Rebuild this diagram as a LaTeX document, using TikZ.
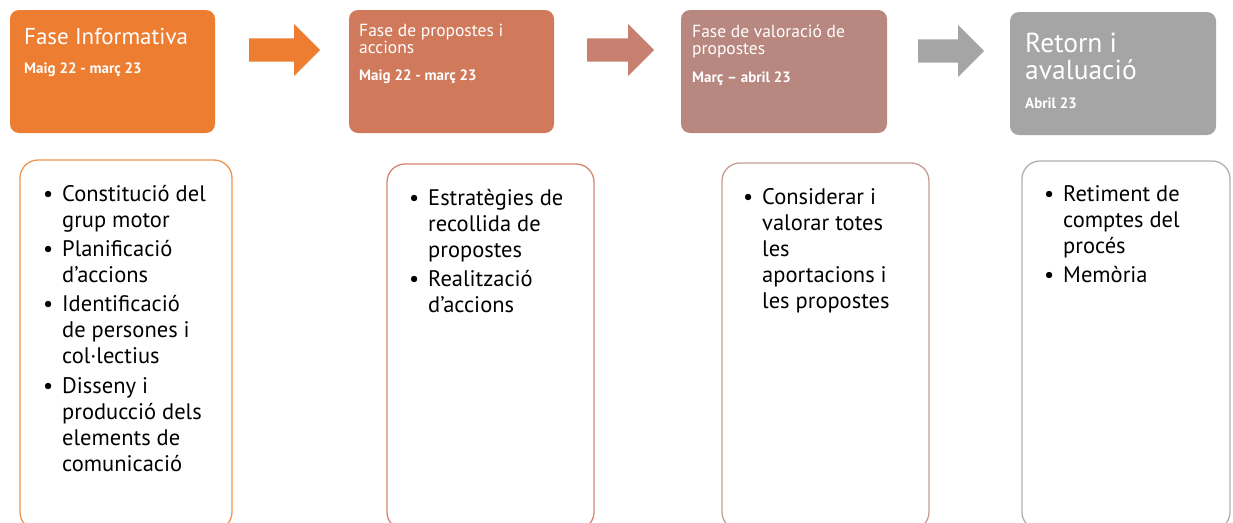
\documentclass[tikz,border=0pt]{standalone}
\usepackage{fontspec}
\setmainfont{PT Sans}
\usetikzlibrary{shapes.arrows}
\definecolor{hA}{HTML}{ED7D31}
\definecolor{hB}{HTML}{D17A5B}
\definecolor{hC}{HTML}{B8877F}
\definecolor{hD}{HTML}{A5A5A5}
\definecolor{arB}{HTML}{C7806F}
\definecolor{oA}{HTML}{F0944F}
\definecolor{oB}{HTML}{D9846A}
\definecolor{oC}{HTML}{C79C96}
\definecolor{oD}{HTML}{B0B0B0}
\newcommand{\bul}{\makebox[19pt][l]{\textbullet}}
\tikzset{
  headbox/.style={rounded corners=9pt, minimum width=205pt, minimum height=123pt, inner sep=0pt, draw=none},
  listbox/.style={rounded corners=18pt, fill=white, line width=1.3pt, minimum height=370pt, inner sep=0pt},
  blockarrow/.style={single arrow, single arrow head extend=14.5pt, minimum width=52pt, minimum height=71pt, inner xsep=0pt, inner ysep=11.5pt, shape border rotate=0, draw=none, anchor=tail},
  ttl/.style={text=white, inner sep=0pt, anchor=base west, align=left},
  dates/.style={text=white, inner sep=0pt, anchor=base west, font=\bfseries\fontsize{15}{17}\selectfont},
  items/.style={inner sep=0pt, anchor=base west, font=\fontsize{22.5}{26}\selectfont}
}
\begin{document}
\begin{tikzpicture}[x=1pt,y=-1pt]
\useasboundingbox (0,0) rectangle (1233,522);
\clip (0,0) rectangle (1233,522);
% header boxes
\node[headbox, fill=hA] (h1) at (112.5,71.5) {};
\node[headbox, fill=hB] (h2) at (451.5,71.5) {};
\node[headbox, fill=hC, minimum width=206pt] (h3) at (784,71.5) {};
\node[headbox, fill=hD, minimum width=206pt] (h4) at (1113,73.5) {};
% arrows
\node[blockarrow, fill=hA] (a1) at (249,50) {};
\node[blockarrow, fill=arB, minimum height=67pt] (a2) at (587,50) {};
\node[blockarrow, fill=hD, minimum height=66pt] (a3) at (918,51) {};
% header texts
\node[ttl, font=\fontsize{23}{24}\selectfont] (t1) at (24,44) {Fase Informativa};
\node[dates] (d1) at (24,73) {Maig 22 - març 23};
\node[ttl, font=\fontsize{17.5}{17}\selectfont] (t2) at (359,53) {Fase de propostes i\\accions};
\node[dates] (d2) at (359,80) {Maig 22 - març 23};
\node[ttl, font=\fontsize{17.5}{17}\selectfont] (t3) at (692,54) {Fase de valoració de\\propostes};
\node[dates] (d3) at (692,82) {Març – abril 23};
\node[ttl, font=\fontsize{27.5}{27}\selectfont] (t4) at (1025,79) {Retorn i\\avaluació};
\node[dates] (d4) at (1025,108) {Abril 23};
% list boxes
\node[listbox, draw=oA, minimum width=212pt] (b1) at (126,345) {};
\node[listbox, draw=oB, minimum width=207pt, minimum height=366pt] (b2) at (490.5,347) {};
\node[listbox, draw=oC, minimum width=207pt, minimum height=367pt] (b3) at (825.5,346.5) {};
\node[listbox, draw=oD, minimum width=208pt, minimum height=369pt] (b4) at (1126,345.5) {};
% list texts
\node[items] (l1) at (43,201) {\begin{tabular}[t]{@{}l@{}l@{}}
\bul & Constitució del\\ & grup motor\\[3pt]
\bul & Planificació\\ & d’accions\\[3pt]
\bul & Identificació\\ & de persones i\\ & col·lectius\\[4pt]
\bul & Disseny i\\ & producció dels\\ & elements de\\ & comunicació
\end{tabular}};
\node[items] (l2) at (409,205) {\begin{tabular}[t]{@{}l@{}l@{}}
\bul & Estratègies de\\ & recollida de\\ & propostes\\[3pt]
\bul & Realització\\ & d’accions
\end{tabular}};
\node[items] (l3) at (743,204) {\begin{tabular}[t]{@{}l@{}l@{}}
\bul & Considerar i\\ & valorar totes\\ & les\\ & aportacions i\\ & les propostes
\end{tabular}};
\node[items] (l4) at (1044,201) {\begin{tabular}[t]{@{}l@{}l@{}}
\bul & Retiment de\\ & comptes del\\ & procés\\[3pt]
\bul & Memòria
\end{tabular}};
\end{tikzpicture}
\end{document}
